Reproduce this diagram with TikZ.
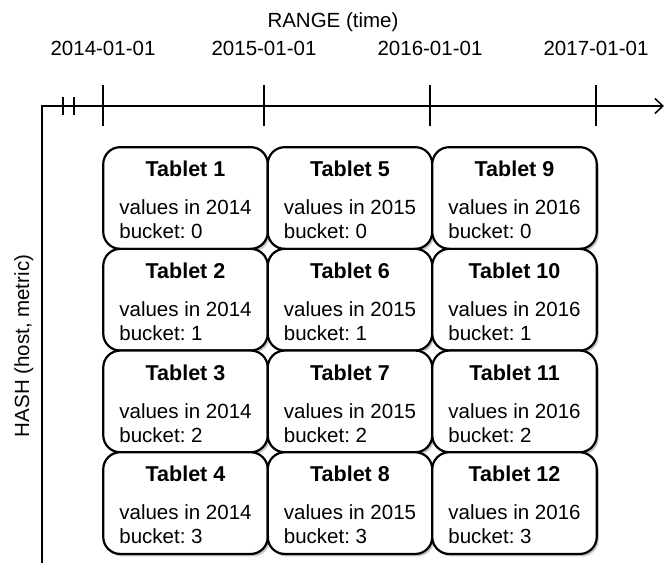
\documentclass[tikz,border=0pt]{standalone}
\usepackage{fontspec}
\setmainfont{Liberation Sans}
\usetikzlibrary{arrows.meta,shadows}
\frenchspacing

\begin{document}
\begin{tikzpicture}
	[x=1pt,y=-1pt,font=\fontsize{20.5}{24}\selectfont,
	tablet/.style={shape=rectangle,draw,line width=2.2pt,rounded corners=17pt,fill=white,
		minimum width=164.5pt,minimum height=101.7pt,inner sep=0pt,
		drop shadow={shadow xshift=2pt,shadow yshift=-2.5pt,opacity=.45}},
	axis/.style={line width=1.5pt}, tick/.style={line width=1.5pt}]
	\useasboundingbox (0,0) rectangle (665,563);
	
	% axes
	\coordinate (origin) at (42,106);
	\coordinate (ybot) at (42,563);
	\coordinate (xend) at (664,106);
	\draw [axis,-{Straight Barb[length=8pt,width=15pt]}] (ybot) -- (origin) -- (xend);
	\draw [tick] (63,97) -- (63,115);
	\draw [tick] (74,97) -- (74,115);
	
	\node (range) [anchor=base] at (333,27) {RANGE (time)};
	\node (hash) [rotate=90,anchor=base] at (29,346) {HASH (host, metric)};
	
	% dates
	\foreach \x/\d in {103/2014,264/2015,430/2016,596/2017} {
		\draw [tick] (\x,85) -- (\x,126);
		\node (d\d) [anchor=base] at (\x,55) {\d-01-01};
	}
	
	% tablets
	\foreach \c/\yr in {0/2014,1/2015,2/2016}
	\foreach \r in {0,1,2,3} {
		\pgfmathtruncatemacro{\n}{4*\c+\r+1}
		\node (t\n) [tablet] at ({185.5+164.5*\c},{198+101.7*\r}) {};
		\node (txt\n) at ([yshift=-5pt]t\n.center)
		{\begin{tabular}{@{}l@{}}\multicolumn{1}{@{}c@{}}{\fontsize{21.5}{24}\selectfont\bfseries Tablet \n}\\[14pt]
				values in \yr\\ bucket: \r\end{tabular}};
	}
\end{tikzpicture}
\end{document}
